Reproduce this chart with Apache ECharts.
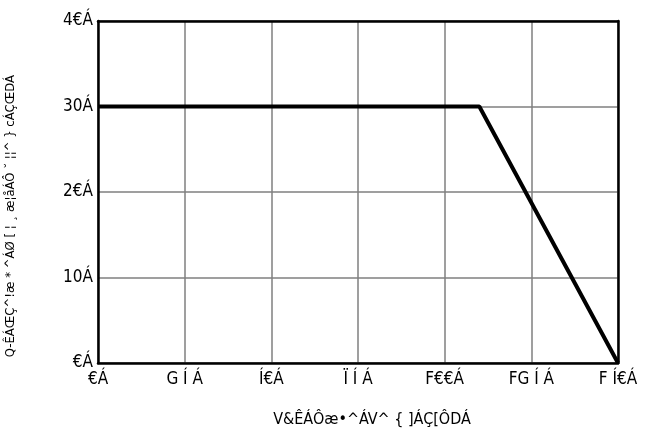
<!DOCTYPE html>
<html><head><meta charset="utf-8">
<script src="https://cdn.jsdelivr.net/npm/echarts@6/dist/echarts.min.js"></script>
<style>html,body{margin:0;padding:0;background:#fff}#c{width:646px;height:441px}</style>
</head><body><div id="c"></div>
<script>
var xTicks = [0, 25, 50, 75, 100, 125, 150];
var xTickLabels = ["€Á", "G Í Á", "Í€Á", "Ï Í Á", "F€€Á", "FG Í Á", "F Í€Á"];
var yTicks = [0, 10, 20, 30, 40];
var yTickLabels = ["€Á", "10Á", "2€Á", "30Á", "4€Á"];
var curveX = [0, 110, 150];
var curveY = [30, 30, 0];
var xTitle = "V&ÊÁÔæ•^ÁV^ { ]ÁÇ[ÔDÁ";
var yTitle = "Q-ÊÁŒÇ^!æ * ^ÁØ [ ¦ ¸ æ¦åÁÔ ˘ ¦¦^ } cÁÇŒDÁ";

var font = '"DejaVu Sans Condensed", "Liberation Sans Narrow", sans-serif';
var chart = echarts.init(document.getElementById('c'), null, {renderer: 'canvas'});
var hidden = {show: false};
chart.setOption({
  animation: false,
  backgroundColor: '#fff',
  grid: {left: 98, right: 28, top: 21, bottom: 78},
  graphic: [{
    type: 'text', left: 4, top: 75,
    rotation: Math.PI / 2,
    style: {text: yTitle, font: '13px ' + font, fill: '#000'}
  }],
  xAxis: [{
    type: 'value', min: 0, max: 150, interval: 25,
    name: xTitle, nameLocation: 'middle', nameGap: 49,
    nameTextStyle: {fontFamily: font, fontSize: 16, color: '#000', padding: [0, 0, 0, 28]},
    axisLine: {show: true, onZero: false, lineStyle: {color: '#000', width: 2.5}}, axisTick: hidden,
    axisLabel: {fontFamily: font, fontSize: 17, color: '#000', margin: 8,
      formatter: function (v) { var i = xTicks.indexOf(v); return i >= 0 ? xTickLabels[i] : ''; }},
    splitLine: {show: true, lineStyle: {color: '#7f7f7f', width: 1.5}}
  }, {
    type: 'value', min: 0, max: 150, position: 'top',
    axisLine: {show: true, onZero: false, lineStyle: {color: '#000', width: 2.5}},
    axisTick: hidden, axisLabel: hidden, splitLine: hidden
  }],
  yAxis: [{
    type: 'value', min: 0, max: 40, interval: 10,
    axisLine: {show: true, onZero: false, lineStyle: {color: '#000', width: 2.5}}, axisTick: hidden,
    axisLabel: {fontFamily: font, fontSize: 17, color: '#000', margin: 5,
      formatter: function (v) { var i = yTicks.indexOf(v); return i >= 0 ? yTickLabels[i] : ''; }},
    splitLine: {show: true, lineStyle: {color: '#7f7f7f', width: 1.5}}
  }, {
    type: 'value', min: 0, max: 40, position: 'right',
    axisLine: {show: true, onZero: false, lineStyle: {color: '#000', width: 2.5}},
    axisTick: hidden, axisLabel: hidden, splitLine: hidden
  }],
  series: [{
    type: 'line', symbol: 'none',
    data: curveX.map(function (x, i) { return [x, curveY[i]]; }),
    lineStyle: {color: '#000', width: 4}
  }]
});
</script></body></html>
